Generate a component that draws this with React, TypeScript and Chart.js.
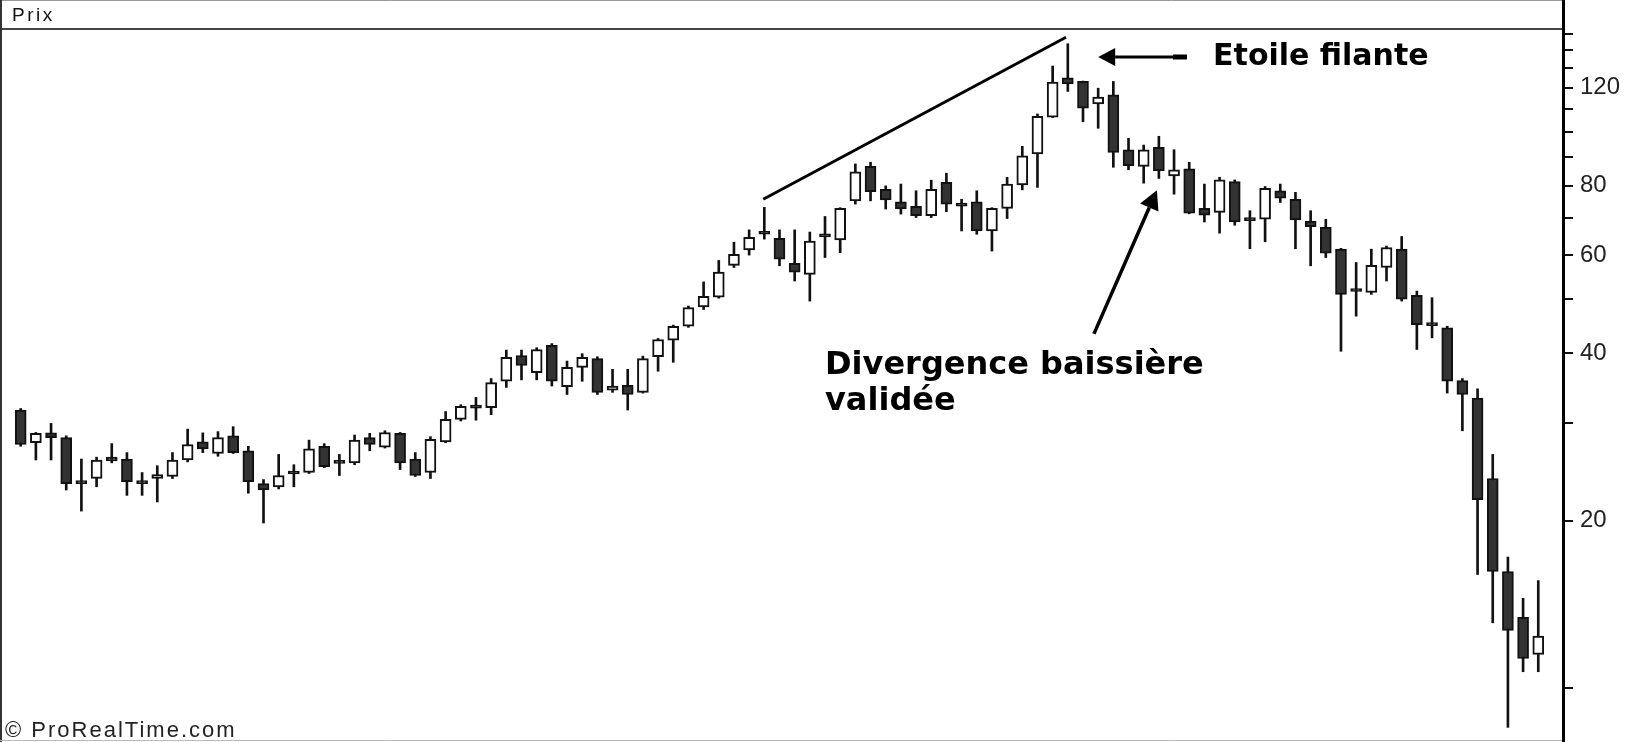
import React, { useEffect, useRef } from 'react';
import { Chart, registerables } from 'chart.js';

Chart.register(...registerables);

// Session numbers (x categories)
const sessions: number[] = Array.from({ length: 101 }, (_, i) => i + 1);

const opens: number[] = [
  31.6, 27.6, 28.75, 28.2, 23.5, 23.8, 26.0, 25.8, 23.5, 23.8,
  24.0, 25.7, 27.7, 26.4, 28.4, 26.7, 23.3, 23.0, 24.35, 24.4,
  27.2, 25.45, 25.4, 28.2, 27.1, 28.7, 25.8, 24.4, 27.7, 30.4,
  31.95, 31.9, 35.6, 39.6, 36.9, 41.3, 34.8, 37.7, 39.1, 34.3,
  35.0, 34.0, 39.4, 42.2, 44.7, 48.4, 50.4, 57.5, 61.3, 65.8,
  64.3, 58.0, 55.4, 64.9, 63.9, 75.1, 86.6, 78.8, 74.8, 73.4,
  70.6, 81.1, 73.7, 74.8, 66.3, 72.8, 80.2, 91.2, 106.2, 125.0,
  123.1, 112.2, 116.5, 92.8, 86.6, 93.7, 83.3, 85.7, 72.8, 71.6,
  81.3, 69.4, 69.6, 78.3, 75.6, 69.1, 67.3, 61.5, 51.8, 51.4,
  57.0, 61.5, 50.8, 45.0, 44.4, 35.7, 33.2, 23.8, 16.2, 13.4,
  11.5,
];

const highs: number[] = [
  31.8, 28.8, 29.9, 28.4, 25.8, 26.0, 27.5, 26.5, 24.4, 25.1,
  26.5, 29.2, 28.75, 28.9, 29.5, 27.2, 23.7, 26.3, 25.2, 27.9,
  27.5, 26.3, 28.5, 28.7, 29.0, 28.8, 26.5, 28.3, 31.4, 32.3,
  33.3, 36.0, 40.5, 40.5, 40.9, 41.6, 38.7, 39.9, 39.4, 37.4,
  37.4, 39.5, 42.5, 44.9, 48.6, 53.7, 58.7, 63.3, 66.6, 73.1,
  66.6, 66.6, 66.0, 70.4, 73.0, 87.5, 88.1, 79.9, 80.5, 78.3,
  81.8, 84.2, 75.6, 78.3, 73.0, 82.8, 94.1, 107.6, 131.2, 143.9,
  123.3, 119.7, 123.1, 97.3, 94.6, 98.1, 92.8, 88.1, 80.5, 82.8,
  81.9, 72.1, 79.7, 80.5, 77.8, 72.1, 69.6, 61.7, 58.2, 61.5,
  62.3, 64.8, 51.7, 50.3, 44.7, 36.0, 34.5, 26.3, 17.2, 14.5,
  15.6,
];

const lows: number[] = [
  27.2, 25.7, 25.7, 22.7, 20.8, 23.0, 25.4, 22.2, 22.2, 21.6,
  23.8, 25.5, 26.5, 26.1, 26.4, 22.4, 19.8, 22.8, 23.0, 24.3,
  24.9, 24.1, 25.2, 26.7, 27.0, 24.7, 24.0, 23.8, 27.6, 30.2,
  30.3, 31.0, 34.7, 35.8, 35.8, 34.9, 33.7, 35.6, 33.7, 34.0,
  31.6, 33.9, 37.1, 38.5, 44.5, 47.9, 50.2, 57.0, 60.0, 64.1,
  57.4, 53.9, 49.6, 59.4, 60.6, 74.1, 75.1, 72.6, 71.1, 70.1,
  70.1, 71.8, 66.3, 65.4, 61.0, 69.8, 78.6, 79.4, 106.0, 118.1,
  104.2, 101.4, 86.3, 85.4, 80.8, 82.4, 77.2, 71.2, 68.8, 65.7,
  67.9, 61.6, 63.4, 74.6, 61.6, 57.4, 59.4, 40.3, 46.6, 51.0,
  53.9, 49.6, 40.6, 42.6, 33.9, 29.0, 16.0, 13.1, 8.5, 10.7,
  10.7,
];

const closes: number[] = [
  27.4, 28.7, 28.2, 23.3, 23.3, 25.7, 25.6, 23.5, 23.3, 24.2,
  25.7, 27.4, 26.9, 28.2, 26.5, 23.5, 22.7, 24.1, 24.25, 26.9,
  25.0, 25.35, 27.9, 27.4, 28.8, 25.4, 24.1, 28.0, 30.4, 32.1,
  31.85, 35.4, 39.3, 38.0, 40.6, 35.6, 37.7, 39.3, 34.0, 34.9,
  33.7, 39.1, 42.3, 44.7, 48.3, 50.6, 55.9, 60.2, 64.6, 65.4,
  59.0, 55.9, 63.6, 64.7, 72.8, 84.7, 78.0, 75.4, 72.6, 70.6,
  78.8, 74.1, 73.5, 66.3, 72.8, 80.5, 90.5, 106.6, 122.8, 121.9,
  110.2, 115.4, 91.8, 86.9, 92.8, 85.1, 85.4, 71.4, 70.8, 81.9,
  68.8, 69.2, 79.1, 75.9, 69.4, 67.5, 60.5, 51.0, 51.6, 57.5,
  61.9, 50.0, 45.0, 44.8, 35.6, 33.7, 21.8, 16.2, 12.7, 11.3,
  12.4,
];

// Right axis
const yTickValues: number[] = [10, 20, 30, 40, 50, 60, 70, 80, 90, 100, 110, 120, 130, 140, 150];
const yTickLabels: number[] = [20, 40, 60, 80, 120];

// Annotations in data units (session index, price)
const trendLineX: number[] = [49.93, 69.88];
const trendLineY: number[] = [75.6, 147.8];

const shootingStarArrow = { from: { x: 77.85, y: 136.2 }, to: { x: 72.0, y: 136.2 } };
const shootingStarText = { x: 79.57, y: 131.8, text: 'Etoile filante' };
const divergenceArrow = { from: { x: 71.72, y: 43.3 }, to: { x: 75.87, y: 78.5 } };
const divergenceText = { x: 54.0, lines: ['Divergence baissière', 'validée'], ys: [36.7, 31.6] };

function drawArrow(ctx: CanvasRenderingContext2D, x1: number, y1: number, x2: number, y2: number,
  lw: number, headLen: number, headHalf: number) {
  const ang = Math.atan2(y2 - y1, x2 - x1);
  const bx = x2 - Math.cos(ang) * headLen;
  const by = y2 - Math.sin(ang) * headLen;
  ctx.beginPath();
  ctx.moveTo(x1, y1);
  ctx.lineTo(bx, by);
  ctx.lineWidth = lw;
  ctx.strokeStyle = '#000';
  ctx.stroke();
  ctx.beginPath();
  ctx.moveTo(x2, y2);
  ctx.lineTo(bx + Math.cos(ang + Math.PI / 2) * headHalf, by + Math.sin(ang + Math.PI / 2) * headHalf);
  ctx.lineTo(bx + Math.cos(ang - Math.PI / 2) * headHalf, by + Math.sin(ang - Math.PI / 2) * headHalf);
  ctx.closePath();
  ctx.fillStyle = '#000';
  ctx.fill();
}

const overlayPlugin = {
  id: 'overlay',
  afterDraw(chart: any) {
    const { ctx, scales } = chart;
    const xs = scales.x;
    const ys = scales.y;
    const axisX = ys.left;
    const H = chart.height;
    ctx.save();

    // Header box "Prix"
    ctx.fillStyle = '#fff';
    ctx.fillRect(0, 0, axisX - 2, 28);
    ctx.strokeStyle = '#999';
    ctx.lineWidth = 1;
    ctx.beginPath();
    ctx.moveTo(0, 0.5);
    ctx.lineTo(axisX - 1, 0.5);
    ctx.stroke();
    ctx.strokeStyle = '#444';
    ctx.lineWidth = 2;
    ctx.beginPath();
    ctx.moveTo(0, 29);
    ctx.lineTo(axisX - 1, 29);
    ctx.stroke();

    // frame left / bottom
    ctx.strokeStyle = '#333';
    ctx.lineWidth = 2;
    ctx.beginPath();
    ctx.moveTo(1, 0);
    ctx.lineTo(1, H);
    ctx.stroke();
    ctx.strokeStyle = '#bbb';
    ctx.lineWidth = 1;
    ctx.beginPath();
    ctx.moveTo(0, H - 1.5);
    ctx.lineTo(axisX - 1, H - 1.5);
    ctx.stroke();

    ctx.fillStyle = '#111';
    ctx.font = '19px "Liberation Sans", Arial, sans-serif';
    ctx.textBaseline = 'alphabetic';
    ctx.textAlign = 'left';
    (ctx as any).letterSpacing = '2.5px';
    ctx.fillText('Prix', 12, 21);

    // Copyright
    ctx.font = '22px "Liberation Sans", Arial, sans-serif';
    (ctx as any).letterSpacing = '2px';
    ctx.fillStyle = '#222';
    ctx.fillText('© ProRealTime.com', 5, H - 5);
    (ctx as any).letterSpacing = '0px';

    // Shooting star arrow + text
    const a1 = shootingStarArrow;
    const ax1 = xs.getPixelForValue(a1.from.x), ay1 = ys.getPixelForValue(a1.from.y);
    const ax2 = xs.getPixelForValue(a1.to.x), ay2 = ys.getPixelForValue(a1.to.y);
    drawArrow(ctx, ax1, ay1, ax2, ay2, 3, 17, 9);
    ctx.lineWidth = 5;
    ctx.beginPath();
    ctx.moveTo(ax1 - 14, ay1);
    ctx.lineTo(ax1, ay1);
    ctx.stroke();

    ctx.fillStyle = '#000';
    ctx.font = 'bold 30px "DejaVu Sans", sans-serif';
    ctx.fillText(shootingStarText.text, xs.getPixelForValue(shootingStarText.x), ys.getPixelForValue(shootingStarText.y));

    // Divergence arrow + text
    const a2 = divergenceArrow;
    drawArrow(ctx,
      xs.getPixelForValue(a2.from.x), ys.getPixelForValue(a2.from.y),
      xs.getPixelForValue(a2.to.x), ys.getPixelForValue(a2.to.y), 3.5, 19, 10);

    ctx.fillStyle = '#000';
    ctx.font = 'bold 32px "DejaVu Sans", sans-serif';
    divergenceText.lines.forEach((t, k) => {
      ctx.fillText(t, xs.getPixelForValue(divergenceText.x), ys.getPixelForValue(divergenceText.ys[k]));
    });

    ctx.restore();
  },
};

export default function App() {
  const ref = useRef<HTMLCanvasElement | null>(null);

  useEffect(() => {
    document.body.style.margin = '0';
    document.body.style.overflow = 'hidden';
    const canvas = ref.current;
    if (!canvas) return;

    const bodyColors = sessions.map((_, k) => (closes[k] < opens[k] ? '#333333' : '#ffffff'));

    const chart = new Chart(canvas, {
      type: 'bar',
      data: {
        datasets: [
          {
            type: 'bar',
            label: 'bodies',
            data: sessions.map((s, k) => ({ x: s, y: [opens[k], closes[k]] })) as any,
            backgroundColor: bodyColors,
            borderColor: '#111',
            borderWidth: 2,
            borderSkipped: false,
            barThickness: 11,
            minBarLength: 3,
            grouped: false,
            order: 0,
          } as any,
          {
            type: 'bar',
            label: 'wicks',
            data: sessions.map((s, k) => ({ x: s, y: [lows[k], highs[k]] })) as any,
            backgroundColor: '#111',
            borderWidth: 0,
            barThickness: 2,
            grouped: false,
            order: 1,
          } as any,
          {
            type: 'line',
            label: 'trend',
            data: trendLineX.map((x, k) => ({ x, y: trendLineY[k] })) as any,
            borderColor: '#000',
            borderWidth: 3,
            pointRadius: 0,
            fill: false,
            order: 2,
          } as any,
        ],
      },
      options: {
        responsive: false,
        animation: false,
        layout: { padding: 0, autoPadding: false },
        plugins: {
          legend: { display: false },
          tooltip: { enabled: false },
        },
        scales: {
          x: {
            type: 'linear',
            display: false,
            min: -0.364,
            max: 102.63,
            offset: false,
          },
          y: {
            type: 'logarithmic',
            position: 'right',
            min: 8,
            max: 172.43,
            afterBuildTicks: (scale: any) => {
              scale.ticks = yTickValues.map((v) => ({ value: v }));
            },
            afterFit: (scale: any) => {
              scale.width = 70;
              scale.paddingTop = 0;
              scale.paddingBottom = 0;
            },
            grid: {
              display: true,
              drawOnChartArea: false,
              drawTicks: true,
              tickLength: 10,
              lineWidth: 2,
              tickColor: '#111',
            },
            border: { display: true, color: '#000', width: 3 },
            ticks: {
              autoSkip: false,
              maxRotation: 0,
              padding: 7,
              color: '#222',
              font: { family: '"Liberation Sans", Arial, sans-serif', size: 24 },
              callback: (v: any) => (yTickLabels.includes(Number(v)) ? String(v) : ''),
            },
          },
        },
      } as any,
      plugins: [overlayPlugin],
    });

    return () => chart.destroy();
  }, []);

  return (
    <div style={{ width: 1633, height: 742, background: '#fff' }}>
      <canvas ref={ref} width={1633} height={742} style={{ display: 'block' }} />
    </div>
  );
}
